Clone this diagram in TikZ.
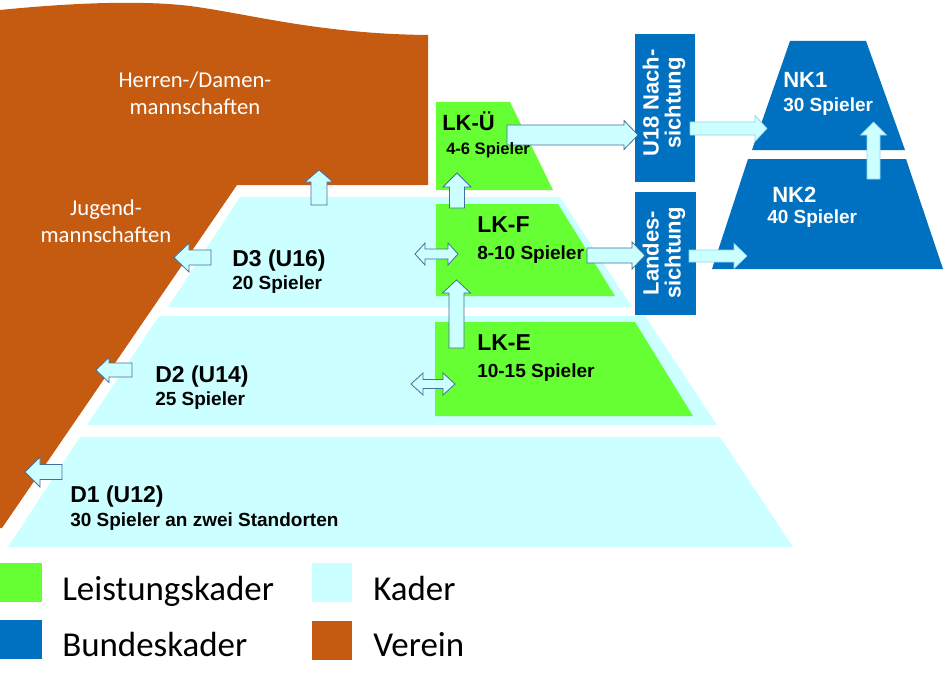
\documentclass[tikz,border=0pt]{standalone}
\usepackage{fontspec}
\setmainfont{Carlito}
\newfontfamily\lsans{Liberation Sans}
\usetikzlibrary{calc}
\definecolor{verein}{HTML}{C55A11}
\definecolor{kader}{HTML}{CCFFFF}
\definecolor{lkgreen}{HTML}{66FF33}
\definecolor{bkblue}{HTML}{0070C0}
\definecolor{arrline}{HTML}{41719C}
\definecolor{arrfill}{HTML}{CCFFFF}
% block arrow: [style]{tail}{tip}{shaft half width}{head half width}{head length} (px)
\newcommand\blockarrow[6][blk]{%
  \path[#1] let \p1=(#2), \p2=(#3), \n1={atan2(\y2-\y1,\x2-\x1)}, \n2={veclen(\x2-\x1,\y2-\y1)} in
   [shift={(\p1)}, rotate=\n1]
   (0pt,{#4*0.75pt}) -- ({\n2-#6*0.75pt},{#4*0.75pt}) -- ({\n2-#6*0.75pt},{#5*0.75pt})
   -- ({\n2+0pt},0pt) -- ({\n2-#6*0.75pt},{-#5*0.75pt}) -- ({\n2-#6*0.75pt},{-#4*0.75pt})
   -- (0pt,{-#4*0.75pt}) -- cycle;}
\newcommand\dblarrow[6][blk]{%
  \path[#1] let \p1=(#2), \p2=(#3), \n1={atan2(\y2-\y1,\x2-\x1)}, \n2={veclen(\x2-\x1,\y2-\y1)} in
   [shift={(\p1)}, rotate=\n1]
   (0pt,0pt) -- ({#6*0.75pt},{#5*0.75pt}) -- ({#6*0.75pt},{#4*0.75pt})
   -- ({\n2-#6*0.75pt},{#4*0.75pt}) -- ({\n2-#6*0.75pt},{#5*0.75pt}) -- ({\n2+0pt},0pt)
   -- ({\n2-#6*0.75pt},{-#5*0.75pt}) -- ({\n2-#6*0.75pt},{-#4*0.75pt})
   -- ({#6*0.75pt},{-#4*0.75pt}) -- ({#6*0.75pt},{-#5*0.75pt}) -- cycle;}
\begin{document}
\begin{tikzpicture}[x=0.75pt,y=-0.75pt,
  blk/.style={fill=arrfill, draw=arrline, line width=0.6pt},
  blkb/.style={fill=arrfill, draw=arrfill!70!bkblue, line width=0.5pt},
  ttl/.style={anchor=base west, inner sep=0, font=\lsans\bfseries\fontsize{17.25}{20}\selectfont},
  sub/.style={anchor=base west, inner sep=0, font=\lsans\bfseries\fontsize{14.25}{16}\selectfont},
  wttl/.style={ttl, text=white, font=\lsans\bfseries\fontsize{16.5}{20}\selectfont},
  wsub/.style={sub, text=white},
  rotlab/.style={rotate=90, align=center, inner sep=0, text=white,
    font=\lsans\bfseries\fontsize{16.5}{16.5}\selectfont},
  vtext/.style={anchor=base, inner sep=0, text=white, font=\fontsize{17}{19}\selectfont},
  legtext/.style={anchor=base west, inner sep=0, font=\fontsize{26.2}{29}\selectfont}]
\useasboundingbox (0,0) rectangle (944,688);
\fill[white] (0,0) rectangle (944,688);

% Verein
\fill[verein] (0,10) .. controls (70,3) and (140,0) .. (190,6)
  .. controls (250,14) and (320,34) .. (428,35) -- (428,185) -- (237,185)
  -- (2,528) -- (0,528) -- cycle;

% Kader
\fill[kader] (240,197) -- (560,197) -- (632,307) -- (168,307) -- cycle;
\fill[kader] (159,316) -- (645,316) -- (717,425) -- (87,425) -- cycle;
\fill[kader] (80,437) -- (720,437) -- (793,547) -- (8,547) -- cycle;

% Leistungskader
\fill[lkgreen] (436,102) -- (510,102) -- (553,190) -- (436,190) -- cycle;
\fill[lkgreen] (436,204) -- (558,204) -- (615,296) -- (436,296) -- cycle;
\fill[lkgreen] (435,322) -- (635,322) -- (693,416) -- (435,416) -- cycle;

% Bundeskader
\fill[bkblue] (635,34) rectangle (695,182);
\fill[bkblue] (635,192) rectangle (696,315);
\fill[bkblue] (790,41) -- (866,41) -- (905,150) -- (752,150) -- cycle;
\fill[bkblue] (748,159) -- (906,159) -- (943,269) -- (712,269) -- cycle;

% connector end points
\coordinate (d3up) at (319,205);   \coordinate (herren) at (319,170);
\coordinate (d3l) at (211,257.5);  \coordinate (jug3) at (174,257.5);
\coordinate (d2l) at (132,370);    \coordinate (jug2) at (96,370);
\coordinate (d1l) at (62,472);     \coordinate (jug1) at (25,472);
\coordinate (d3r) at (415,254);    \coordinate (lkfl) at (458,254);
\coordinate (d2r) at (411,384);    \coordinate (lkel) at (455,384);
\coordinate (lkfup) at (457,208);  \coordinate (lkubot) at (457,173);
\coordinate (lkeup) at (456.5,348);\coordinate (lkfbot) at (456.5,280);
\coordinate (lkur) at (507,135);   \coordinate (u18l) at (638,135);
\coordinate (lkfr) at (587,255.5); \coordinate (landl) at (645,255.5);
\coordinate (u18r) at (690,128.5); \coordinate (nk1l) at (767,128.5);
\coordinate (landr) at (689,256);  \coordinate (nk2l) at (747,256);
\coordinate (nk2up) at (873.5,179);\coordinate (nk1bot) at (873.5,122);

% arrows
\blockarrow{d3up}{herren}{8}{14}{12}
\blockarrow{d3l}{jug3}{7.5}{14.5}{15}
\blockarrow{d2l}{jug2}{7}{12.5}{13}
\blockarrow{d1l}{jug1}{7.5}{15}{15}
\dblarrow{d3r}{lkfl}{5}{11}{10}
\dblarrow{d2r}{lkel}{4.5}{11}{12}
\blockarrow{lkfup}{lkubot}{7.5}{14}{14}
\blockarrow{lkeup}{lkfbot}{7.5}{14}{13}
\blockarrow{lkur}{u18l}{10}{14.5}{14}
\blockarrow{lkfr}{landl}{7.5}{13.5}{13}
\blockarrow[blkb]{u18r}{nk1l}{6.5}{13}{12}
\blockarrow[blkb]{landr}{nk2l}{6}{12.5}{13}
\blockarrow[blkb]{nk2up}{nk1bot}{6.5}{13}{13}

% texts in Verein
\node[vtext] (herren1) at (195,88) {Herren-/Damen-};
\node[vtext] (herren2) at (195,115) {mannschaften};
\node[vtext] (jugend1) at (106,215) {Jugend-};
\node[vtext] (jugend2) at (106,242) {mannschaften};

% Kader texts
\node[ttl] (d3t) at (232,266) {D3 (U16)};
\node[sub] (d3s) at (232,289) {20 Spieler};
\node[ttl] (d2t) at (155,382) {D2 (U14)};
\node[sub] (d2s) at (155,405) {25 Spieler};
\node[ttl] (d1t) at (70,502) {D1 (U12)};
\node[sub] (d1s) at (70,526) {30 Spieler an zwei Standorten};

% LK texts
\node[ttl, font=\lsans\bfseries\fontsize{16.5}{20}\selectfont] (lkut) at (442,131) {LK-Ü};
\node[sub, font=\lsans\bfseries\fontsize{12.4}{14}\selectfont] (lkus) at (446,154) {4-6 Spieler};
\node[ttl] (lkft) at (477,232) {LK-F};
\node[sub] (lkfs) at (477,259) {8-10 Spieler};
\node[ttl] (lket) at (477,350) {LK-E};
\node[sub] (lkes) at (477,377) {10-15 Spieler};

% Bundeskader texts
\node[wttl] (nk1t) at (783,88) {NK1};
\node[wsub] (nk1s) at (783,112) {30 Spieler};
\node[wttl] (nk2t) at (772,202) {NK2};
\node[wsub] (nk2s) at (767,223) {40 Spieler};
\node[rotlab] (u18) at (664,103) {U18 Nach-\\sichtung};
\node[rotlab] (landes) at (664,253) {Landes-\\sichtung};

% legend
\fill[lkgreen] (0,563) rectangle (42,602);
\fill[bkblue] (0,620) rectangle (42,659);
\fill[kader] (312,563) rectangle (352,602);
\fill[verein] (312,621) rectangle (352,660);
\node[legtext] (leg1) at (62,600) {Leistungskader};
\node[legtext] (leg2) at (62,656) {Bundeskader};
\node[legtext] (leg3) at (373,600) {Kader};
\node[legtext] (leg4) at (373,656) {Verein};
\end{tikzpicture}
\end{document}
